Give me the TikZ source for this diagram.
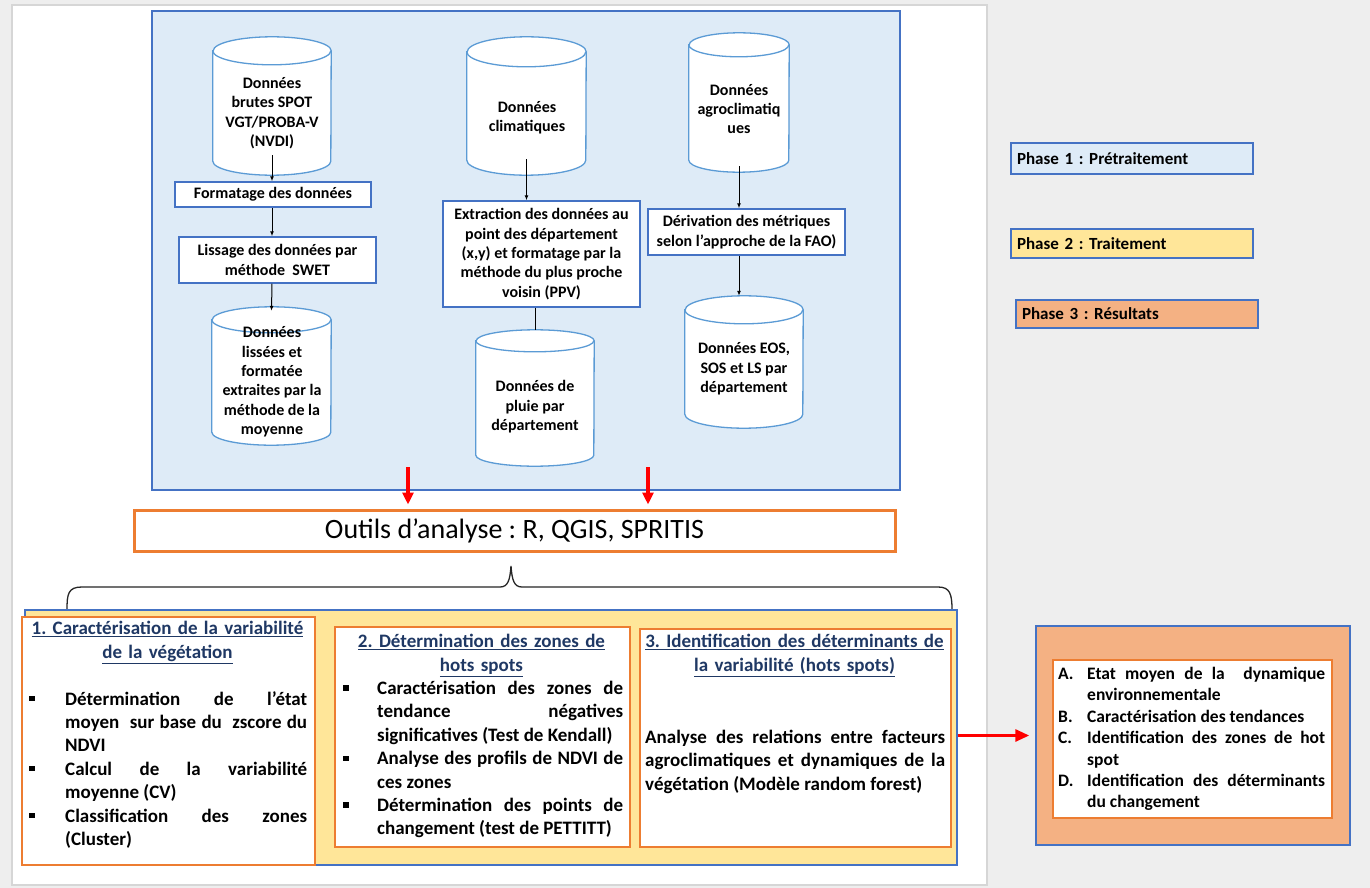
\documentclass[tikz,border=0pt]{standalone}
\usepackage{fontspec}
\setmainfont{Carlito}
\frenchspacing
\usetikzlibrary{arrows.meta,positioning,calc}

\definecolor{pagegrey}{HTML}{EEEEEE}
\definecolor{edgegrey}{HTML}{D6D6D6}
\definecolor{bluefill}{HTML}{DEEBF7}
\definecolor{yellowfill}{HTML}{FFE699}
\definecolor{orangefill}{HTML}{F4B183}
\definecolor{boxblue}{HTML}{4472C4}
\definecolor{cylblue}{HTML}{5B9BD5}
\definecolor{boxorange}{HTML}{ED7D31}
\definecolor{titleblue}{HTML}{1F3864}

% petite puce carrée et ligne de liste à retrait
\newcommand\sqbul{\rule[0.2em]{0.28em}{0.28em}}
\newcommand\itemline[3]{\hangindent=#1\hangafter=1\noindent\makebox[#1][l]{#2}#3\par}
% contour de cylindre autour d'un noeud : #1 noeud, #2 demi-largeur, #3 rayon vertical
\newcommand\cylout[3]{%
  \draw[cylline, fill=white] ([yshift=-#3pt]#1.north west) -- ([yshift=#3pt]#1.south west)
     arc[start angle=180, end angle=360, x radius=#2pt, y radius=#3pt]
     -- ([yshift=-#3pt]#1.north east)
     arc[start angle=0, end angle=180, x radius=#2pt, y radius=#3pt] -- cycle;
  \draw[cylline] ([yshift=-#3pt]#1.north west)
     arc[start angle=180, end angle=360, x radius=#2pt, y radius=#3pt];
}

\begin{document}
\begin{tikzpicture}[
    x=1pt, y=-1pt,
    % Réglages des boîtes
    database/.style={rectangle, draw=none, inner sep=0pt},
    cylline/.style={draw=cylblue, line width=1.3pt},
    dbtext/.style={align=center, inner sep=0pt, font=\fontsize{16}{19.4}\selectfont\bfseries},
    stepbox/.style={draw=boxblue, line width=1.5pt, fill=white, align=center, inner sep=0pt, font=\fontsize{16}{19.4}\selectfont\bfseries},
    legendbox/.style={draw=boxblue, line width=1.5pt, text width=230pt, inner xsep=6pt, inner ysep=0pt, align=left, font=\fontsize{17}{20}\selectfont\bfseries},
    taskbox/.style={draw=boxorange, line width=1.5pt, fill=white, inner sep=0pt},
    tasktitle/.style={align=center, inner sep=0pt, text=titleblue, font=\fontsize{19}{24}\selectfont\bfseries},
    tasktext/.style={align=justify, inner sep=0pt, font=\fontsize{19}{23.4}\selectfont\bfseries,
        execute at begin node={\hyphenpenalty=10000 \tolerance=10000 }},
    flow/.style={draw=black, line width=1pt, -{Latex[length=5pt,width=4pt]}},
    redflow/.style={draw=red, line width=3.5pt, -{Triangle[length=12pt,width=11pt]}}
]
\useasboundingbox (0,0) rectangle (1370,888);
% Fond et page
\fill[pagegrey] (0,0) rectangle (1370,888);
\draw[edgegrey, line width=2pt, fill=white] (12,5) rectangle (987,885);

% Phase 1 : Prétraitement
\node[draw=boxblue, line width=1.5pt, fill=bluefill, minimum width=748, minimum height=479, inner sep=0pt] (pretraitement) at (526,250.5) {};

\node[database, minimum width=118, minimum height=138] (c1) at (272,106) {};
\cylout{c1}{59}{14}
\node[dbtext] (c1t) at (272,113) {Données\\brutes SPOT\\VGT/PROBA-V\\(NVDI)};
\node[stepbox, minimum width=196, minimum height=25] (fmt) at (273,194.5) {Formatage des données};
\node[stepbox, minimum width=197, minimum height=46] (lis) at (277.5,260) {Lissage des données par\\méthode\ \ SWET};
\node[database, minimum width=119, minimum height=138] (c2) at (271.5,376) {};
\cylout{c2}{59.5}{13}
\node[dbtext] (c2t) at (272,382) {Données\\lissées et\\formatée\\extraites par la\\méthode de la\\moyenne};

\node[database, minimum width=119, minimum height=138] (c3) at (526.5,106) {};
\cylout{c3}{59.5}{15}
\node[dbtext] (c3t) at (527,118) {Données\\climatiques};
\node[stepbox, minimum width=197, minimum height=106] (ext) at (541.5,254) {Extraction des données au\\point des département\\(x,y) et formatage par la\\méthode du plus proche\\voisin (PPV)};
\node[database, minimum width=118, minimum height=136] (c4) at (535,398) {};
\cylout{c4}{59}{11}
\node[dbtext] (c4t) at (535,407) {Données de\\pluie par\\département};

\node[database, minimum width=100, minimum height=139] (c5) at (739,102.5) {};
\cylout{c5}{50}{12}
\node[dbtext] (c5t) at (739,109) {Données\\agroclimatiq\\ues};
\node[stepbox, minimum width=197, minimum height=46] (der) at (746.5,232) {Dérivation des métriques\\selon l’approche de la FAO)};
\node[database, minimum width=118, minimum height=132] (c6) at (744,362) {};
\cylout{c6}{59}{14}
\node[dbtext] (c6t) at (744,369) {Données EOS,\\SOS et LS par\\département};

\draw[flow] ([yshift=20pt]c1.south) -- (fmt.north -| c1.south);
\draw[flow] (fmt.south -| c1.south) -- (lis.north -| c1.south);
\draw[flow] (lis.south -| c1.south) -- ([yshift=-4pt]c2.north);
\draw[flow] ([yshift=16pt]c3.south) -- (ext.north -| c3.south);
\draw[line width=1pt] (ext.south -| c4.north) -- (c4.north);
\draw[flow] ([yshift=6pt]c5.south) -- (der.north -| c5.south);
\draw[flow] (der.south -| c5.south) -- (c6.north -| c5.south);

% Légende
\node[legendbox, fill=bluefill, minimum height=31] (leg1) at (1132,158.5) {Phase 1 : Prétraitement};
\node[legendbox, fill=yellowfill, minimum height=29] (leg2) at (1132,243.5) {Phase 2 : Traitement};
\node[legendbox, fill=orangefill, minimum height=28] (leg3) at (1137,314) {Phase 3 : Résultats};

% Outils
\node[draw=boxorange, line width=3pt, fill=white, minimum width=761, minimum height=41, inner sep=0pt, font=\fontsize{28}{30}\selectfont] (outils) at (514.5,530.5) {Outils d’analyse : R, QGIS, SPRITIS};
\coordinate (r1) at (408,467);
\coordinate (r2) at (648,467);
\draw[redflow, shorten >=4pt] (r1) -- (r1 |- outils.north);
\draw[redflow, shorten >=4pt] (r2) -- (r2 |- outils.north);

% Accolade
\coordinate (bl) at (67,610);
\coordinate (br) at (952,610);
\coordinate (btip) at (511,566);
\draw[line width=1.3pt, black!85] (bl) .. controls (67,594) and (68,587) .. (82,587) -- (500,587)
    .. controls (508,587) and (510,580) .. (btip) .. controls (512,580) and (514,587) .. (522,587)
    -- (938,587) .. controls (950,587) and (952,594) .. (br);

% Phase 2 : Traitement
\node[draw=boxblue, line width=1.5pt, fill=yellowfill, minimum width=932, minimum height=255, inner sep=0pt] (traitement) at (491,737.5) {};

\node[taskbox, minimum width=293, minimum height=248] (b1) at (168.5,741) {};
\node[tasktitle, text width=290, anchor=north] (b1t) at (167.5,621) {\underline{1. Caractérisation de la variabilité}\\\underline{de la végétation}};
\node[tasktext, text width=278, anchor=north west] (b1l) at (29,691) {%
\itemline{36pt}{\sqbul}{Détermination de l’état\linebreak moyen\ \ sur base du\ \ zscore du\linebreak NDVI}%
\itemline{36pt}{\sqbul}{Calcul de la variabilité\linebreak moyenne (CV)}%
\itemline{36pt}{\sqbul}{Classification des zones\linebreak (Cluster)}};

\node[taskbox, minimum width=295, minimum height=220] (b2) at (482.5,737) {};
\node[tasktitle, text width=290, anchor=north] (b2t) at (481.5,634) {\underline{2. Détermination des zones de}\\\underline{hots spots}};
\node[tasktext, text width=280, anchor=north west] (b2l) at (343,681) {%
\itemline{34pt}{\sqbul}{Caractérisation des zones de\linebreak tendance négatives\linebreak significatives (Test de Kendall)}%
\itemline{34pt}{\sqbul}{Analyse des profils de NDVI de\linebreak ces zones}%
\itemline{34pt}{\sqbul}{Détermination des points de\linebreak changement (test de PETTITT)}};

\node[taskbox, minimum width=311, minimum height=218] (b3) at (795.5,738) {};
\node[tasktitle, text width=305, anchor=north] (b3t) at (794.5,634) {\underline{3. Identification des déterminants de}\\\underline{la variabilité (hots spots)}};
\node[tasktext, text width=300, anchor=north west] (b3l) at (645,730) {Analyse des relations entre facteurs\linebreak agroclimatiques et dynamiques de la\linebreak végétation (Modèle random forest)};

% Phase 3 : Résultats
\node[draw=boxblue, line width=1.5pt, fill=orangefill, minimum width=314, minimum height=219, inner sep=0pt] (resultats) at (1193,735.5) {};
\node[taskbox, minimum width=279, minimum height=158] (res) at (1192.5,739) {};
\node[tasktext, text width=267, anchor=north west, font=\fontsize{17.5}{21.4}\selectfont\bfseries] (resl) at (1058,667) {%
\itemline{29pt}{A.}{Etat moyen de la\ \ dynamique\linebreak environnementale}%
\itemline{29pt}{B.}{Caractérisation des tendances}%
\itemline{29pt}{C.}{Identification des zones de hot\linebreak spot}%
\itemline{29pt}{D.}{Identification des déterminants\linebreak du changement}};

\draw[redflow, line width=3pt, -{Triangle[length=14pt,width=12pt]}] (traitement.east |- resultats.west) -- ([xshift=-6pt]resultats.west);
\end{tikzpicture}
\end{document}
